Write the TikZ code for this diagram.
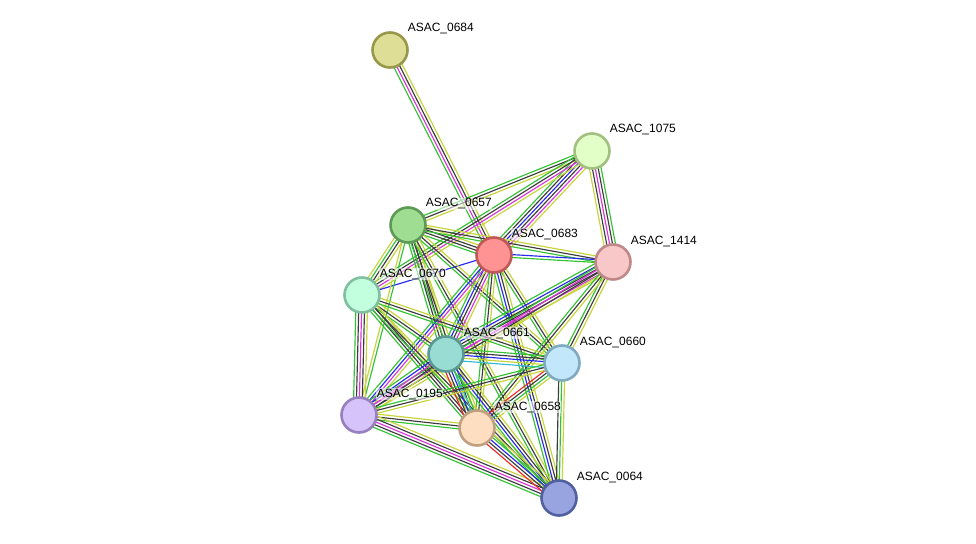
\documentclass[tikz,border=0pt]{standalone}
\usepackage{fontspec}
\setmainfont{Liberation Sans}
\usetikzlibrary{calc,backgrounds}
\definecolor{eg}{HTML}{33C233}
\definecolor{ek}{HTML}{3C3C3C}
\definecolor{em}{HTML}{DD33DD}
\definecolor{ey}{HTML}{C6D43A}
\definecolor{eb}{HTML}{2828F0}
\definecolor{er}{HTML}{F02828}
\definecolor{ec}{HTML}{33BBD6}
\tikzset{
  prot/.style={circle, minimum size=35pt, inner sep=0pt, line width=2.6pt},
  lab/.style={anchor=west, font=\fontsize{12}{12}\selectfont, inner sep=0.6pt, fill=white, fill opacity=0.55, text opacity=1},
  edgeline/.style={line width=1.15pt}
}
\newcommand{\bund}[3]{%
  \gdef\bn{0}%
  \foreach \c in {#3}{\xdef\bn{\the\numexpr\bn+1\relax}}%
  \foreach \c [count=\i] in {#3}{%
    \pgfmathsetmacro\off{(\i-(\bn+1)/2)*2.9}%
    \draw[\c, edgeline] ($(#1.center)!\off pt!90:(#2.center)$) -- ($(#2.center)!\off pt!-90:(#1.center)$);}}
\begin{document}
\begin{tikzpicture}[x=1pt,y=-1pt]
\useasboundingbox (0,0) rectangle (976,543);
% nodes
\node[prot, fill={rgb,255:red,222;green,222;blue,150}, draw={rgb,255:red,152;green,152;blue,74}] (a0684) at (390,50) {};
\node[prot, fill={rgb,255:red,226;green,255;blue,200}, draw={rgb,255:red,162;green,192;blue,128}] (a1075) at (592,151) {};
\node[prot, fill={rgb,255:red,158;green,221;blue,146}, draw={rgb,255:red,94;green,154;blue,85}] (a0657) at (408,225) {};
\node[prot, fill={rgb,255:red,255;green,146;blue,146}, draw={rgb,255:red,192;green,88;blue,88}] (a0683) at (494,255) {};
\node[prot, fill={rgb,255:red,248;green,200;blue,200}, draw={rgb,255:red,192;green,136;blue,136}] (a1414) at (613,262) {};
\node[prot, fill={rgb,255:red,194;green,255;blue,223}, draw={rgb,255:red,128;green,192;blue,160}] (a0670) at (362,295) {};
\node[prot, fill={rgb,255:red,152;green,220;blue,211}, draw={rgb,255:red,90;green,154;blue,148}] (a0661) at (446,354) {};
\node[prot, fill={rgb,255:red,194;green,231;blue,250}, draw={rgb,255:red,128;green,170;blue,192}] (a0660) at (562,363) {};
\node[prot, fill={rgb,255:red,213;green,195;blue,250}, draw={rgb,255:red,152;green,128;blue,192}] (a0195) at (359,415) {};
\node[prot, fill={rgb,255:red,253;green,222;blue,192}, draw={rgb,255:red,192;green,160;blue,128}] (a0658) at (477,428) {};
\node[prot, fill={rgb,255:red,152;green,164;blue,224}, draw={rgb,255:red,80;green,96;blue,160}] (a0064) at (559,498) {};
% labels
\node[lab] (l0684) at ($(a0684)+(17,-21)$) {ASAC\_0684};
\node[lab] (l1075) at ($(a1075)+(17,-21)$) {ASAC\_1075};
\node[lab] (l0657) at ($(a0657)+(17,-21)$) {ASAC\_0657};
\node[lab] (l0683) at ($(a0683)+(17,-21)$) {ASAC\_0683};
\node[lab] (l1414) at ($(a1414)+(17,-21)$) {ASAC\_1414};
\node[lab] (l0670) at ($(a0670)+(17,-21)$) {ASAC\_0670};
\node[lab] (l0661) at ($(a0661)+(17,-21)$) {ASAC\_0661};
\node[lab] (l0660) at ($(a0660)+(17,-21)$) {ASAC\_0660};
\node[lab] (l0195) at ($(a0195)+(17,-21)$) {ASAC\_0195};
\node[lab] (l0658) at ($(a0658)+(17,-21)$) {ASAC\_0658};
\node[lab] (l0064) at ($(a0064)+(17,-21)$) {ASAC\_0064};
% edges
\begin{scope}[on background layer]
\fill[white] (0,0) rectangle (976,543);
\bund{a0684}{a0683}{eg,em,ek,ey}
\bund{a0683}{a1075}{ey,em,ek,eb,ek,eg}
\bund{a0657}{a1075}{ey,ek,eg}
\bund{a0670}{a1075}{ey,em,ek,eg}
\bund{a1075}{a1414}{ey,ek,em,ek,eg}
\bund{a0657}{a0683}{eg,ek,ek,ey}
\bund{a0657}{a1414}{eg,ek,ey}
\bund{a0683}{a1414}{eg,eb}
\bund{a0683}{a0670}{eb}
\bund{a0657}{a0670}{ey,eg,ek,ey}
\bund{a0657}{a0661}{eg,ek,ek,ey}
\bund{a0657}{a0658}{eg,ek,ey}
\bund{a0657}{a0195}{ey,eg}
\bund{a0657}{a0660}{eg,ek,ey}
\bund{a0657}{a0064}{eg,ek,ey}
\bund{a0683}{a0661}{eg,eb,ek,em,ey}
\bund{a0683}{a0195}{eg,eb,em,ey}
\bund{a0683}{a0660}{eg,ek,ey}
\bund{a0683}{a0658}{eg,ek,ey}
\bund{a0683}{a0064}{eg,eb,ek,ey}
\bund{a1414}{a0661}{eg,eb,ek,ek,em,ey}
\bund{a1414}{a0195}{eg,em,ek,ey}
\bund{a1414}{a0660}{eg,ek,ey}
\bund{a1414}{a0658}{eg,ek,ey}
\bund{a0670}{a0661}{eg,ek,ey}
\bund{a0670}{a0658}{eg,ek,ek,ey}
\bund{a0670}{a0195}{eg,ek,em,ek,ey}
\bund{a0670}{a0660}{eg,ek,ey}
\bund{a0670}{a0064}{eg,ek,ey}
\bund{a0661}{a0660}{ec,ey,eb,ek,eg}
\bund{a0661}{a0195}{eg,eb,em,ek,ey}
\bund{a0661}{a0658}{er,ek,eb,ec,eg,ey}
\bund{a0661}{a0064}{eg,eb,ek,ey}
\bund{a0660}{a0658}{er,ek,eg,ey}
\bund{a0660}{a0064}{ek,eg,ey}
\bund{a0660}{a0195}{eg,ek,ey}
\bund{a0195}{a0658}{eg,ek,ey}
\bund{a0195}{a0064}{eg,ek,em,ek,ey}
\bund{a0658}{a0064}{er,ek,eb,eg,ey}
\end{scope}
\end{tikzpicture}
\end{document}
